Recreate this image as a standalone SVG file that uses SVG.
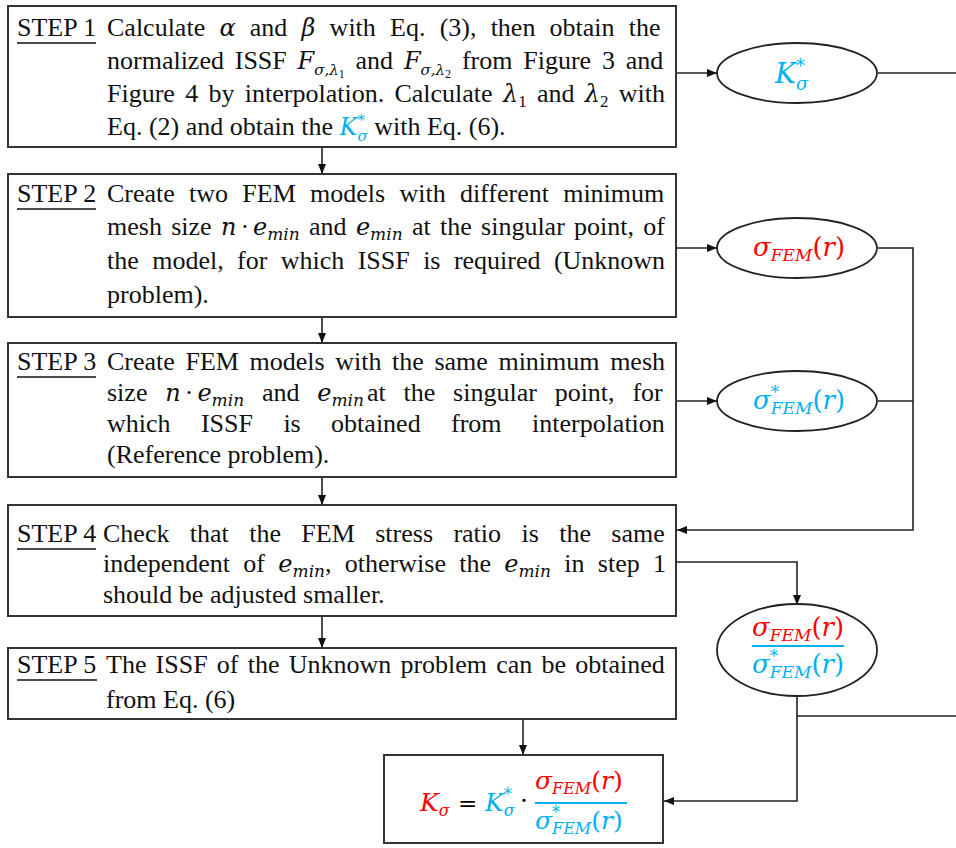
<svg xmlns="http://www.w3.org/2000/svg" width="956" height="848" viewBox="0 0 956 848">
  <defs>
    <style>
      .t { font-family: "Liberation Serif", "Times New Roman", serif; font-size: 26px; fill: #111; }
      .m { font-family: "DejaVu Serif", serif; font-style: italic; font-size: 24px; }
      .s { font-size: 17px; }
      .s15 { font-size: 15px; }
      .ss { font-family: "Liberation Serif", serif; font-style: normal; font-size: 12px; }
      .n1 { font-family: "Liberation Serif", serif; font-style: normal; font-size: 17px; }
      .red { fill: #FF0000; }
      .cy { fill: #00B0F0; }
      .eq { font-family: "DejaVu Serif", serif; font-size: 26px; }
      .it { font-style: italic; }
      .box { fill: #fff; stroke: #333; stroke-width: 2; }
      .ell { fill: #fff; stroke: #222; stroke-width: 1.8; }
      .conn { fill: none; stroke: #222; stroke-width: 1.6; }
      .ul { stroke: #111; stroke-width: 1.4; }
      .bar { stroke: #00B0F0; stroke-width: 2; }
    </style>
    <marker id="ah" viewBox="0 0 10 10" refX="10" refY="5" markerWidth="10" markerHeight="10" markerUnits="userSpaceOnUse" orient="auto">
      <path d="M0,1 L10,5 L0,9 Z" fill="#111"/>
    </marker>
  </defs>

  <!-- connectors -->
  <g id="connectors">
    <path class="conn" d="M322,147 V174" marker-end="url(#ah)"/>
    <path class="conn" d="M322,317 V343" marker-end="url(#ah)"/>
    <path class="conn" d="M322,477 V505" marker-end="url(#ah)"/>
    <path class="conn" d="M322,616 V648" marker-end="url(#ah)"/>
    <path class="conn" d="M523,719 V755" marker-end="url(#ah)"/>
    <path class="conn" d="M676,73 H717" marker-end="url(#ah)"/>
    <path class="conn" d="M878,73 H956"/>
    <path class="conn" d="M676,248 H717" marker-end="url(#ah)"/>
    <path class="conn" d="M878,248 H913 V530 H677" marker-end="url(#ah)"/>
    <path class="conn" d="M676,401 H717" marker-end="url(#ah)"/>
    <path class="conn" d="M878,401 H913"/>
    <path class="conn" d="M676,562 H797 V605" marker-end="url(#ah)"/>
    <path class="conn" d="M797,696 V801 H664" marker-end="url(#ah)"/>
    <path class="conn" d="M797,716 H956"/>
  </g>

  <!-- STEP 1 -->
  <g id="step1">
    <rect class="box" x="8" y="6" width="668" height="141"/>
    <text class="t" x="17" y="36">STEP 1</text>
    <line class="ul" x1="17" y1="43" x2="96" y2="43"/>
    <text class="t" x="107" y="36" style="word-spacing:7.7px">Calculate <tspan class="m">α</tspan> and <tspan class="m">β</tspan> with Eq. (3), then obtain the</text>
    <text class="t" x="107" y="69" style="word-spacing:4.3px">normalized ISSF <tspan class="m">F</tspan><tspan class="m s15" dy="6">σ,λ</tspan><tspan class="ss" dy="3">1</tspan><tspan dy="-9"> and </tspan><tspan class="m">F</tspan><tspan class="m s15" dy="6">σ,λ</tspan><tspan class="ss" dy="3">2</tspan><tspan dy="-9"> from Figure 3 and</tspan></text>
    <text class="t" x="107" y="102" style="word-spacing:3.8px">Figure 4 by interpolation. Calculate <tspan class="m">λ</tspan><tspan class="n1" dy="5">1</tspan><tspan dy="-5"> and </tspan><tspan class="m">λ</tspan><tspan class="n1" dy="5">2</tspan><tspan dy="-5"> with</tspan></text>
    <text class="t" x="107" y="135">Eq. (2) and obtain the <tspan class="m cy">K</tspan><tspan class="m s15 cy" dy="-10">*</tspan><tspan class="m s15 cy" dx="-7.5" dy="16">σ</tspan><tspan dy="-6"> with Eq. (6).</tspan></text>
  </g>

  <!-- STEP 2 -->
  <g id="step2">
    <rect class="box" x="8" y="174" width="668" height="143"/>
    <text class="t" x="17" y="202">STEP 2</text>
    <line class="ul" x1="17" y1="209" x2="96" y2="209"/>
    <text class="t" x="107" y="202" style="word-spacing:7.75px">Create two FEM models with different minimum</text>
    <text class="t" x="107" y="235" style="word-spacing:2.8px">mesh size <tspan class="m">n</tspan><tspan dx="4">·</tspan><tspan class="m" dx="4">e</tspan><tspan class="m s" dy="5">min</tspan><tspan dy="-5"> and </tspan><tspan class="m">e</tspan><tspan class="m s" dy="5">min</tspan><tspan dy="-5"> at the singular point, of</tspan></text>
    <text class="t" x="107" y="269" style="word-spacing:6.9px">the model, for which ISSF is required (Unknown</text>
    <text class="t" x="107" y="303">problem).</text>
  </g>

  <!-- STEP 3 -->
  <g id="step3">
    <rect class="box" x="8" y="343" width="668" height="134"/>
    <text class="t" x="17" y="370">STEP 3</text>
    <line class="ul" x1="17" y1="377" x2="96" y2="377"/>
    <text class="t" x="107" y="370" style="word-spacing:4.1px">Create FEM models with the same minimum mesh</text>
    <text class="t" x="107" y="401" style="word-spacing:11.3px">size <tspan class="m">n</tspan><tspan dx="4">·</tspan><tspan class="m" dx="4">e</tspan><tspan class="m s" dy="5">min</tspan><tspan dy="-5"> and </tspan><tspan class="m">e</tspan><tspan class="m s" dy="5">min</tspan><tspan dy="-5" dx="3">at the singular point, for</tspan></text>
    <text class="t" x="107" y="432" style="word-spacing:23.9px">which ISSF is obtained from interpolation</text>
    <text class="t" x="107" y="463">(Reference problem).</text>
  </g>

  <!-- STEP 4 -->
  <g id="step4">
    <rect class="box" x="8" y="505" width="668" height="111"/>
    <text class="t" x="17" y="542">STEP 4</text>
    <line class="ul" x1="17" y1="549" x2="96" y2="549"/>
    <text class="t" x="103" y="542" style="word-spacing:13.9px">Check that the FEM stress ratio is the same</text>
    <text class="t" x="103" y="572" style="word-spacing:6.8px">independent of <tspan class="m">e</tspan><tspan class="m s" dy="5">min</tspan><tspan dy="-5">, otherwise the </tspan><tspan class="m">e</tspan><tspan class="m s" dy="5">min</tspan><tspan dy="-5"> in step 1</tspan></text>
    <text class="t" x="103" y="603">should be adjusted smaller.</text>
  </g>

  <!-- STEP 5 -->
  <g id="step5">
    <rect class="box" x="8" y="648" width="668" height="71"/>
    <text class="t" x="17" y="673">STEP 5</text>
    <line class="ul" x1="17" y1="680" x2="97" y2="680"/>
    <text class="t" x="106" y="673" style="word-spacing:2.7px">The ISSF of the Unknown problem can be obtained</text>
    <text class="t" x="106" y="708">from Eq. (6)</text>
  </g>

  <!-- K*_sigma -->
  <g id="k-star">
    <ellipse class="ell" cx="797" cy="73" rx="80" ry="30"/>
    <text class="eq it cy" x="775" y="83" style="font-size:28px">K<tspan dy="-11" style="font-size:18px">*</tspan><tspan dx="-9" dy="18" style="font-size:18px">σ</tspan></text>
  </g>

  <!-- sigma_FEM(r) -->
  <g id="sigma-fem">
    <ellipse class="ell" cx="797" cy="248" rx="80" ry="30"/>
    <text class="eq red" x="753" y="256"><tspan class="it">σ</tspan><tspan class="it" style="font-size:17px" dy="5">FEM</tspan><tspan dy="-5">(</tspan><tspan class="it">r</tspan>)</text>
  </g>

  <!-- sigma*_FEM(r) -->
  <g id="sigma-fem-ref">
    <ellipse class="ell" cx="797" cy="401" rx="80" ry="30"/>
    <text class="eq cy" x="753" y="409"><tspan class="it">σ</tspan><tspan class="it" style="font-size:17px" dy="-11">*</tspan><tspan class="it" style="font-size:17px" dx="-8.5" dy="16">FEM</tspan><tspan dy="-5">(</tspan><tspan class="it">r</tspan>)</text>
  </g>

  <!-- ratio -->
  <g id="ratio">
    <ellipse class="ell" cx="797" cy="650" rx="80" ry="46"/>
    <text class="eq red" x="752" y="636"><tspan class="it">σ</tspan><tspan class="it" style="font-size:17px" dy="5">FEM</tspan><tspan dy="-5">(</tspan><tspan class="it">r</tspan>)</text>
    <line class="bar" x1="752" y1="646" x2="844" y2="646"/>
    <text class="eq cy" x="752" y="673"><tspan class="it">σ</tspan><tspan class="it" style="font-size:17px" dy="-11">*</tspan><tspan class="it" style="font-size:17px" dx="-8.5" dy="16">FEM</tspan><tspan dy="-5">(</tspan><tspan class="it">r</tspan>)</text>
  </g>

  <!-- result -->
  <g id="result">
    <rect class="box" x="384" y="755" width="279" height="88"/>
    <text class="eq" x="420" y="811" style="font-size:25px"><tspan class="it red">K</tspan><tspan class="it red" style="font-size:16px" dy="5">σ</tspan><tspan x="458" dy="-5" style="font-size:23px">=</tspan><tspan class="it cy" x="485">K</tspan><tspan class="it cy" style="font-size:16px" dy="-11">*</tspan><tspan class="it cy" style="font-size:16px" dx="-8" dy="16">σ</tspan><tspan x="520" dy="-7">·</tspan></text>
    <text class="eq red" x="535" y="789" style="font-size:25px"><tspan class="it">σ</tspan><tspan class="it" style="font-size:16px" dy="5">FEM</tspan><tspan dy="-5">(</tspan><tspan class="it">r</tspan>)</text>
    <line class="bar" x1="535" y1="803" x2="627" y2="803"/>
    <text class="eq cy" x="535" y="829" style="font-size:25px"><tspan class="it">σ</tspan><tspan class="it" style="font-size:16px" dy="-11">*</tspan><tspan class="it" style="font-size:16px" dx="-8" dy="16">FEM</tspan><tspan dy="-5">(</tspan><tspan class="it">r</tspan>)</text>
  </g>
</svg>
